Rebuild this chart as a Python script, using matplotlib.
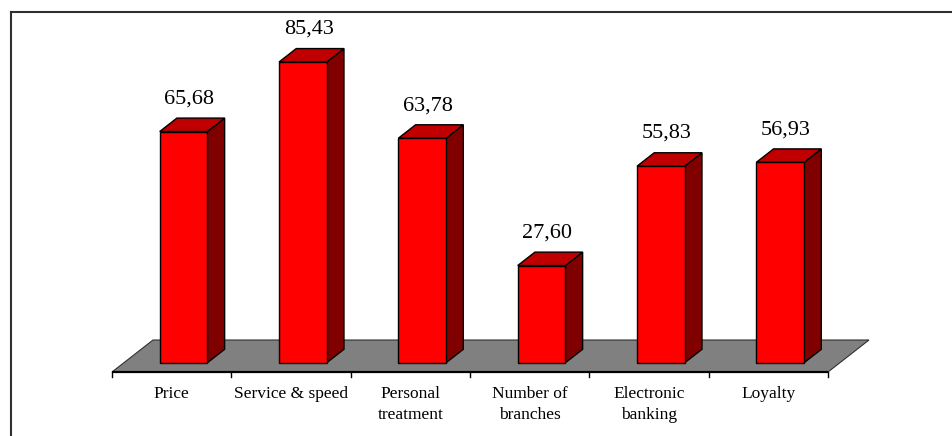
import matplotlib.pyplot as plt
from matplotlib.patches import Polygon

# === DATA ===
categories = ["Price", "Service & speed", "Personal\ntreatment",
              "Number of\nbranches", "Electronic\nbanking", "Loyalty"]
values = [65.68, 85.43, 63.78, 27.60, 55.83, 56.93]
value_labels = ["65,68", "85,43", "63,78", "27,60", "55,83", "56,93"]

# === STYLE ===
FRONT = "#FF0000"
TOP = "#C00000"
SIDE = "#800000"
FLOOR = "#808080"

# fake 3d: depth vector for the whole floor (x in category units, y in value units)
DX = 0.3436
DY = 9.09
Z0, Z1 = 0.29, 0.71     # bar depth span inside floor
HALF_W = 0.20

plt.rcParams['font.family'] = ['Liberation Serif', 'DejaVu Serif']

fig = plt.figure(figsize=(9.53, 4.36), dpi=100)
ax = fig.add_axes([0, 0, 1, 1])
ax.set_xlim(-1.4386, 6.5476)
ax.set_ylim(-18.18, 105.68)
ax.axis('off')


def proj(x, y, z):
    return (x + z * DX, y + z * DY)


n = len(values)
left, right = -0.5, n - 0.5

# floor
floor = [proj(left, 0, 0), proj(right, 0, 0), proj(right, 0, 1), proj(left, 0, 1)]
ax.add_patch(Polygon(floor, closed=True, facecolor=FLOOR, edgecolor='#303030', lw=0.8))
ax.plot([left, right], [0, 0], color='black', lw=1.6, solid_capstyle='butt')
for k in range(n + 1):
    ax.plot([left + k, left + k], [0, -1.5], color='black', lw=1)

# bars
for i, v in enumerate(values):
    x0, x1 = i - HALF_W, i + HALF_W
    front = [proj(x0, 0, Z0), proj(x1, 0, Z0), proj(x1, v, Z0), proj(x0, v, Z0)]
    side = [proj(x1, 0, Z0), proj(x1, 0, Z1), proj(x1, v, Z1), proj(x1, v, Z0)]
    top = [proj(x0, v, Z0), proj(x1, v, Z0), proj(x1, v, Z1), proj(x0, v, Z1)]
    ax.add_patch(Polygon(side, closed=True, facecolor=SIDE, edgecolor='black', lw=1))
    ax.add_patch(Polygon(top, closed=True, facecolor=TOP, edgecolor='black', lw=1))
    ax.add_patch(Polygon(front, closed=True, facecolor=FRONT, edgecolor='black', lw=1))

    lx, ly = proj(i, v, Z1)
    ax.annotate(value_labels[i], (lx - 0.095, ly), xytext=(0, 7), textcoords='offset points',
                ha='center', va='bottom', fontsize=16)

    ax.annotate(categories[i], (i, 0), xytext=(0, -10), textcoords='offset points',
                ha='center', va='top', fontsize=12.5, linespacing=1.45)

# frame (only top and left visible)
fig.add_artist(plt.Line2D([11 / 953, 1], [1 - 12 / 436, 1 - 12 / 436], color='#303030', lw=1.5))
fig.add_artist(plt.Line2D([11 / 953, 11 / 953], [0, 1 - 12 / 436], color='#303030', lw=1.5))

fig.savefig("out.png", dpi=100)
